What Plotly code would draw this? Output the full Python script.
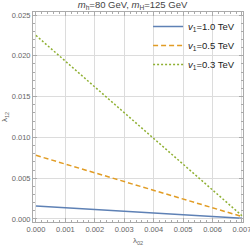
import plotly.graph_objects as go

lam02 = [0.0, 0.007]
lam12_v10 = [0.0016, 0.0001]
lam12_v05 = [0.0078, 0.0003]
lam12_v03 = [0.0225, 0.0004]
names = ["<i>v</i><sub>1</sub>=1.0 TeV", "<i>v</i><sub>1</sub>=0.5 TeV", "<i>v</i><sub>1</sub>=0.3 TeV"]
colors = ["#5E81B5", "#E19C24", "#8FB032"]
dashes = ["solid", "5px,3px", "2px,2px"]

fig = go.Figure()
for ys, n, c, d in zip([lam12_v10, lam12_v05, lam12_v03], names, colors, dashes):
    fig.add_trace(go.Scatter(x=lam02, y=ys, mode="lines", name=n,
                             line=dict(color=c, width=1.5, dash=d)))

font = "Liberation Sans, Arial, sans-serif"
axis_common = dict(
    showgrid=True, gridcolor="#dcdcdc", gridwidth=1, automargin=False,
    zeroline=False, showline=True, linecolor="#aaaaaa", linewidth=1,
    mirror="allticks", ticks="inside", ticklen=4, tickcolor="#aaaaaa",
    tickfont=dict(family=font, size=7.5, color="#666666"),
    tickformat=".3f", ticklabeloverflow="allow",
)
fig.update_xaxes(range=[-0.0001, 0.007035], dtick=0.001, tick0=0,
                 minor=dict(dtick=0.0002, ticks="inside", ticklen=2, tickcolor="#aaaaaa", showgrid=False),
                 title=dict(text="λ<sub>02</sub>", font=dict(family=font, size=8, color="#666666"), standoff=4),
                 **axis_common)
fig.update_yaxes(range=[-0.00037, 0.02537], dtick=0.005, tick0=0,
                 minor=dict(dtick=0.001, ticks="inside", ticklen=2, tickcolor="#aaaaaa", showgrid=False),
                 title=dict(text="λ<sub>12</sub>", font=dict(family=font, size=8, color="#666666"), standoff=2),
                 **axis_common)

fig.update_layout(
    width=250, height=248,
    margin=dict(l=33, r=7, t=12, b=26, autoexpand=False),
    paper_bgcolor="white", plot_bgcolor="white",
    title=dict(text="<i>m</i><sub>h</sub>=80 GeV, <i>m</i><sub>H</sub>=125 GeV",
               font=dict(family=font, size=9.5, color="#444444"),
               x=0.53, xanchor="center", y=0.995, yanchor="top", pad=dict(t=0, b=0)),
    showlegend=True,
    legend=dict(x=0.548, xanchor="left", y=1.0, yanchor="top",
                bgcolor="rgba(0,0,0,0)", font=dict(family=font, size=9.5, color="#222222"),
                itemwidth=30, tracegroupgap=0),
)
fig.write_html("out.html", config={"displayModeBar": False},
               post_script="document.body.style.margin='0px';")
